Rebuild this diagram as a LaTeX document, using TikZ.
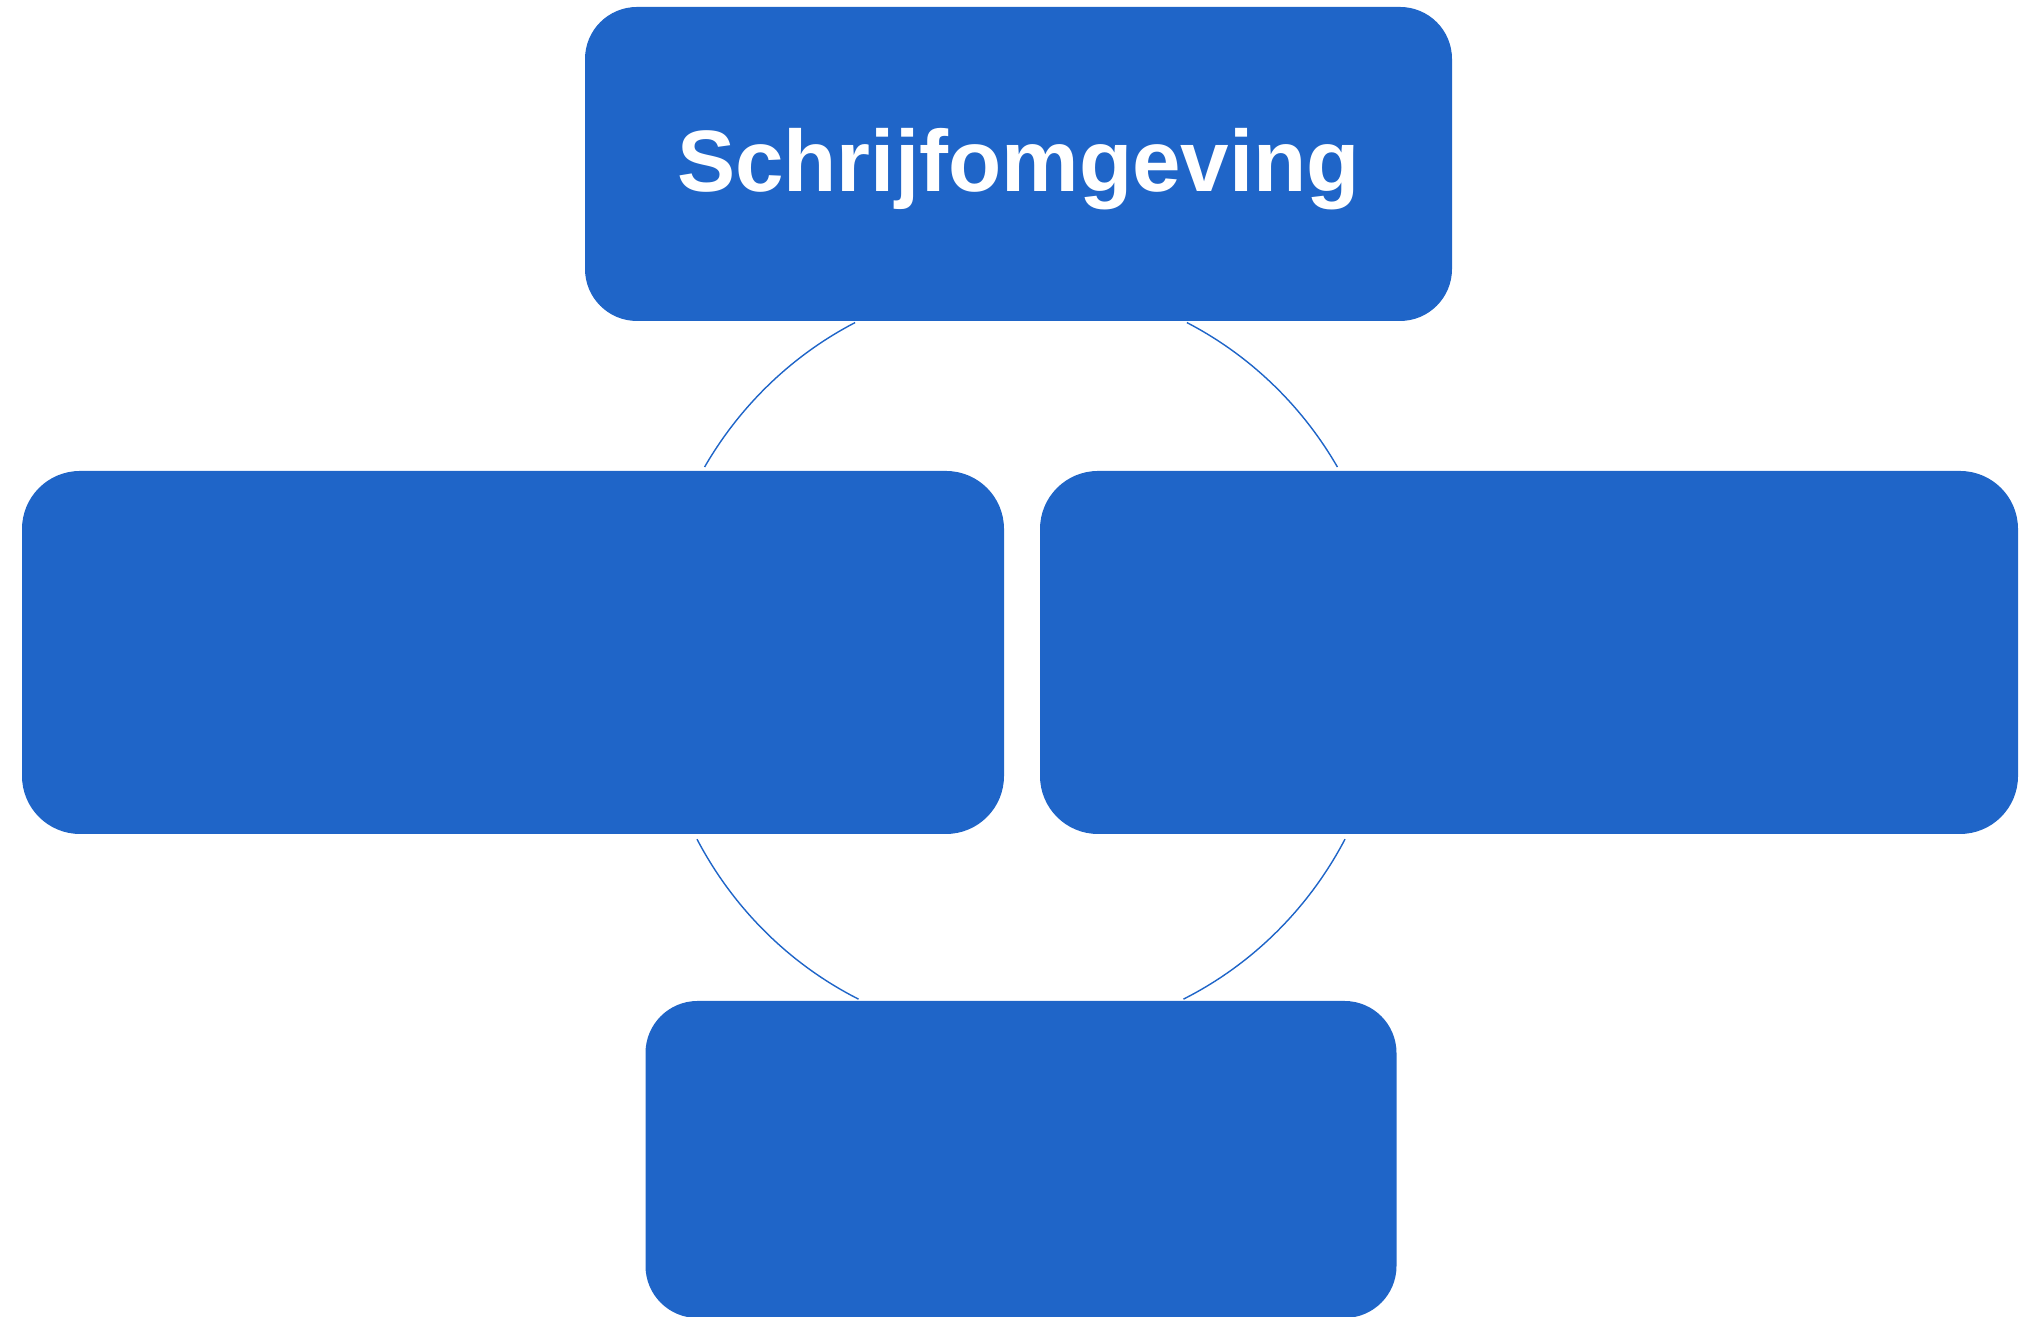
\documentclass[tikz,border=0pt]{standalone}
\usepackage{fontspec}
\setmainfont{Liberation Sans}
\definecolor{boxblue}{RGB}{31,101,200}
\begin{document}
\begin{tikzpicture}[
  blockbox/.style={rectangle, fill=boxblue, draw=none, inner sep=0pt, outer sep=0pt},
  cyclearc/.style={draw=boxblue, line width=0.4pt},
  titletext/.style={text=white, font=\bfseries\fontsize{24.8}{30}\selectfont, inner sep=0pt}
]
\useasboundingbox (0,0) rectangle (20.26,13.17);
% boxes
\node[blockbox, rounded corners=0.52cm, minimum width=8.67cm, minimum height=3.14cm] (top) at (10.185,11.53) {};
\node[blockbox, rounded corners=0.58cm, minimum width=9.82cm, minimum height=3.63cm] (left) at (5.13,6.645) {};
\node[blockbox, rounded corners=0.58cm, minimum width=9.78cm, minimum height=3.63cm] (right) at (15.29,6.645) {};
\node[blockbox, rounded corners=0.52cm, minimum width=7.51cm, minimum height=3.17cm] (bottom) at (10.21,1.575) {};
\node[titletext, anchor=base] (toptext) at (10.185,11.25) {Schrijfomgeving};
% cycle arcs
\coordinate (cc) at (10.21,6.57);
\draw[cyclearc] ([shift={(116.8:3.68cm and 3.78cm)}]cc) arc[start angle=116.8, end angle=149.3, x radius=3.68cm, y radius=3.78cm];
\draw[cyclearc] ([shift={(63.2:3.68cm and 3.78cm)}]cc) arc[start angle=63.2, end angle=30.7, x radius=3.68cm, y radius=3.78cm];
\draw[cyclearc] ([shift={(208.3:3.68cm and 3.78cm)}]cc) arc[start angle=208.3, end angle=243.8, x radius=3.68cm, y radius=3.78cm];
\draw[cyclearc] ([shift={(331.7:3.68cm and 3.78cm)}]cc) arc[start angle=331.7, end angle=296.2, x radius=3.68cm, y radius=3.78cm];
\end{tikzpicture}
\end{document}
